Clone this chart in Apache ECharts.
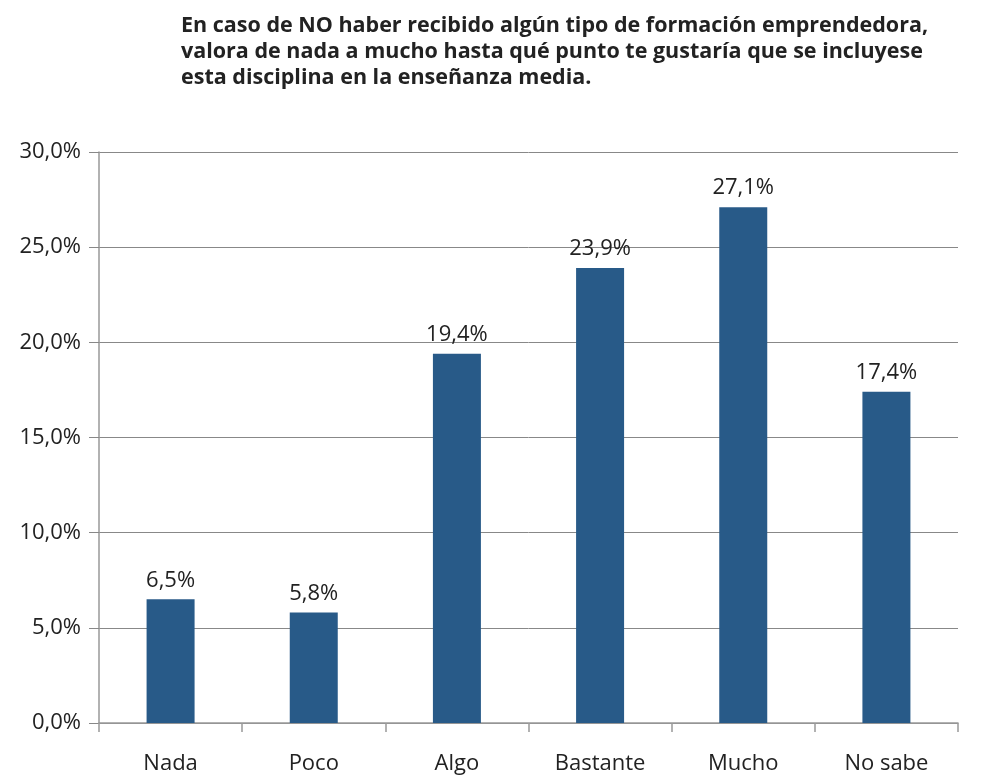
<!DOCTYPE html>
<html>
<head>
<meta charset="utf-8">
<script src="https://cdn.jsdelivr.net/npm/echarts@6/dist/echarts.min.js"></script>
<style>
  html, body { margin: 0; padding: 0; background: #fff; }
  #chart { width: 987px; height: 778px; }
</style>
</head>
<body>
<div id="chart"></div>
<script>
var categories = ['Nada', 'Poco', 'Algo', 'Bastante', 'Mucho', 'No sabe'];
var values = [6.5, 5.8, 19.4, 23.9, 27.1, 17.4];
var titleText = 'En caso de NO haber recibido algún tipo de formación emprendedora,\nvalora de nada a mucho hasta qué punto te gustaría que se incluyese\nesta disciplina en la enseñanza media.';

var fontFamily = '"Open Sans", "DejaVu Sans", sans-serif';
function pct(v) { return v.toFixed(1).replace('.', ',') + '%'; }

var myChart = echarts.init(document.getElementById('chart'));

option = {
    animation: false,
    title: {
        text: titleText,
        left: 176,
        top: 8,
        textStyle: {
            fontFamily: fontFamily,
            fontSize: 21.5,
            fontWeight: 'bold',
            color: '#222',
            lineHeight: 26
        }
    },
    grid: { left: 99, right: 29, top: 152, bottom: 55 },
    xAxis: {
        type: 'category',
        data: categories,
        axisLine: { lineStyle: { color: '#999', width: 1.5 } },
        axisTick: { show: true, length: 9, lineStyle: { color: '#999', width: 1.5 } },
        axisLabel: { fontFamily: fontFamily, fontSize: 22, color: '#222', margin: 30 }
    },
    yAxis: {
        type: 'value',
        min: 0,
        max: 30,
        interval: 5,
        axisLine: { show: true, lineStyle: { color: '#999', width: 1.5 } },
        axisTick: { show: true, length: 10, lineStyle: { color: '#888' } },
        splitLine: { lineStyle: { color: '#888', width: 1 } },
        axisLabel: {
            fontFamily: fontFamily, fontSize: 22, color: '#222', margin: 18,
            formatter: function (v) { return pct(v); }
        }
    },
    series: [{
        type: 'bar',
        data: values,
        barWidth: 48,
        itemStyle: { color: '#285A88' },
        label: {
            show: true,
            position: 'top',
            distance: 8,
            fontFamily: fontFamily,
            fontSize: 22,
            color: '#222',
            formatter: function (p) { return pct(p.value); }
        }
    }]
};

myChart.setOption(option);
</script>
</body>
</html>
